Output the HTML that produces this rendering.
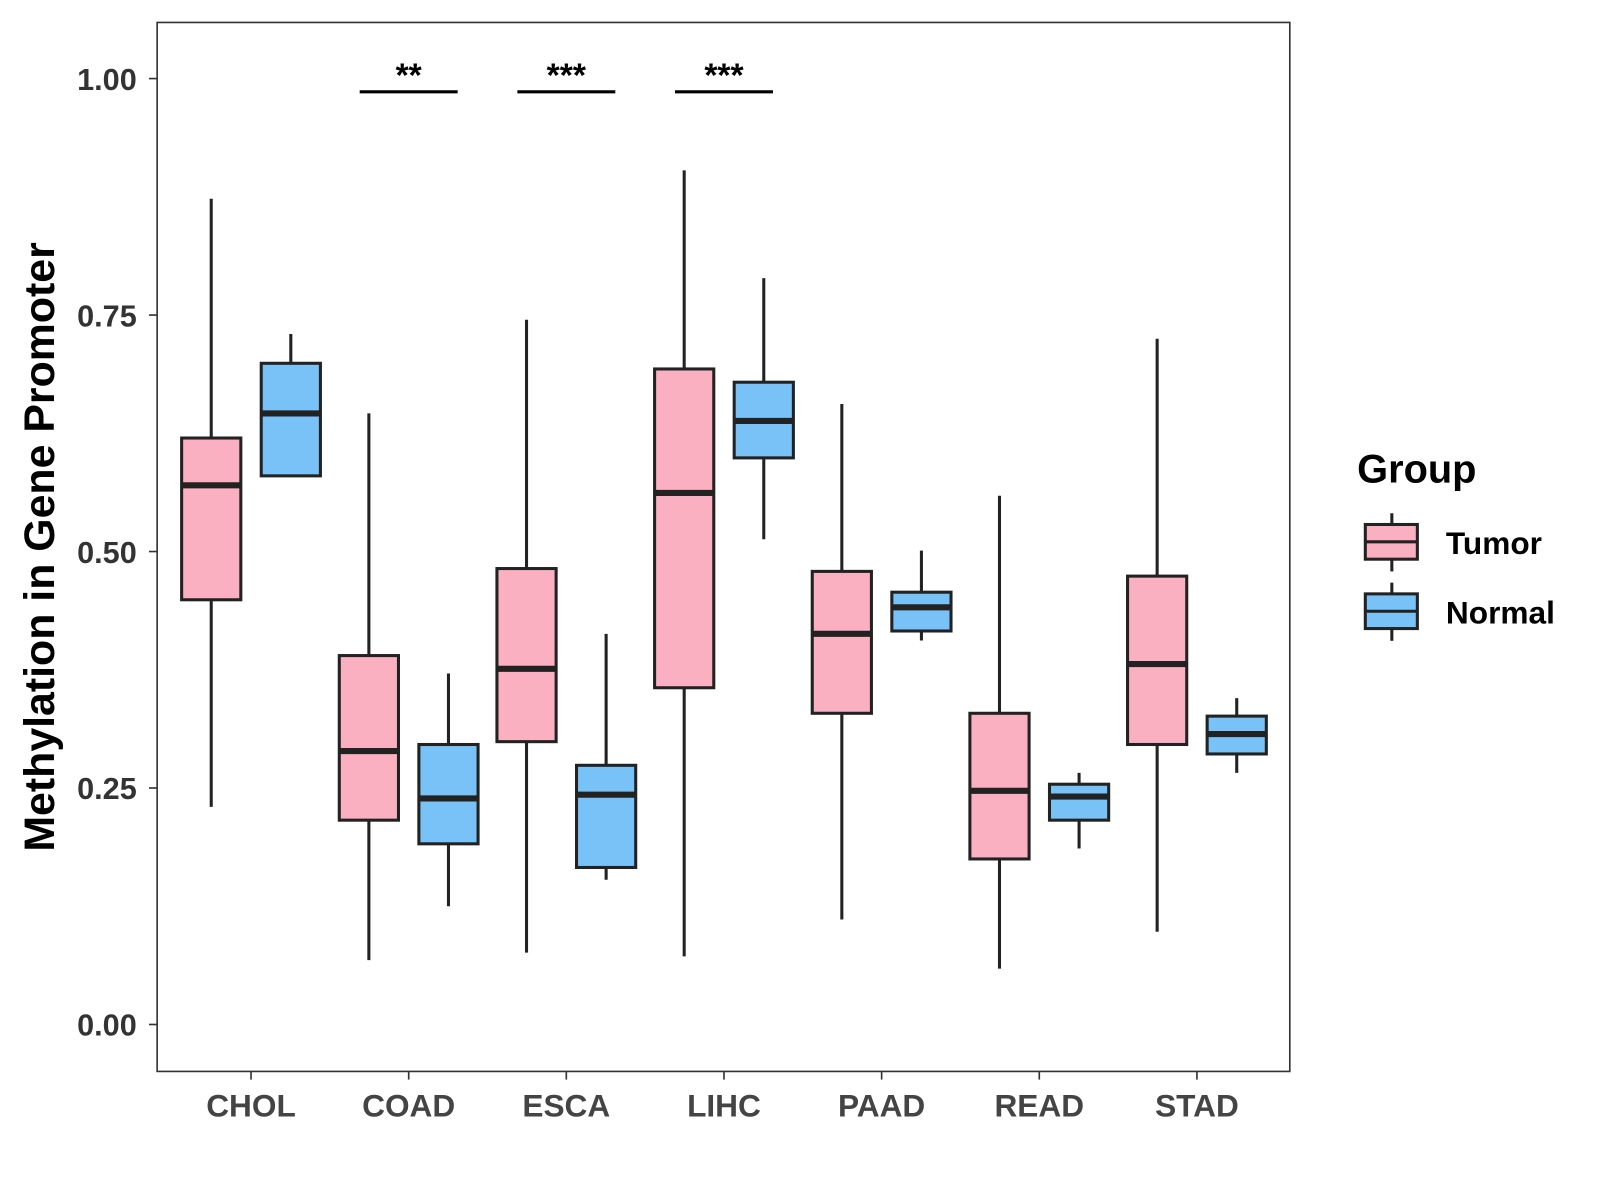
<!DOCTYPE html>
<html><head><meta charset="utf-8"><style>
body{margin:0;background:#fff}
svg{display:block;font-family:"Liberation Sans",Arial,sans-serif}
</style></head><body>
<svg id="chart" width="1600" height="1200" viewBox="0 0 1568 1176">
<rect x="0" y="0" width="1568" height="1176" fill="#fff"/>
<rect x="154" y="22" width="1110" height="1028" fill="none" stroke="#333" stroke-width="1.6"/>
<g id="marks"></g>
<g id="axes"></g>
<text transform="translate(53,536) rotate(-90)" text-anchor="middle" font-size="42" font-weight="bold" fill="#000">Methylation in Gene Promoter</text>
<g>
<text x="1330" y="473" font-size="39" font-weight="bold" fill="#000">Group</text>
<g>
<line x1="1364" y1="503" x2="1364" y2="560" stroke="#222" stroke-width="3"/>
<rect x="1338" y="514" width="51" height="34" fill="#fbb0c2" stroke="#222" stroke-width="3"/>
<line x1="1338" y1="531" x2="1389" y2="531" stroke="#222" stroke-width="3"/>
<text x="1417" y="543" font-size="31" font-weight="bold" fill="#000">Tumor</text>
</g>
<g>
<line x1="1364" y1="571" x2="1364" y2="628" stroke="#222" stroke-width="3"/>
<rect x="1338" y="582" width="51" height="34" fill="#78c2f7" stroke="#222" stroke-width="3"/>
<line x1="1338" y1="599" x2="1389" y2="599" stroke="#222" stroke-width="3"/>
<text x="1417" y="611" font-size="31" font-weight="bold" fill="#000">Normal</text>
</g>
</g>
</svg>
<script>
const categories=["CHOL","COAD","ESCA","LIHC","PAAD","READ","STAD"];
const tumorLow=[0.230,0.068,0.076,0.072,0.111,0.059,0.098];
const tumorQ1=[0.449,0.216,0.299,0.356,0.329,0.175,0.296];
const tumorMed=[0.570,0.289,0.376,0.562,0.413,0.247,0.381];
const tumorQ3=[0.620,0.390,0.482,0.693,0.479,0.329,0.474];
const tumorHigh=[0.873,0.646,0.745,0.903,0.656,0.559,0.725];
const normalLow=[0.580,0.125,0.153,0.513,0.406,0.186,0.266];
const normalQ1=[0.580,0.191,0.166,0.599,0.416,0.216,0.286];
const normalMed=[0.646,0.239,0.243,0.638,0.441,0.241,0.307];
const normalQ3=[0.699,0.296,0.274,0.679,0.457,0.254,0.326];
const normalHigh=[0.730,0.371,0.413,0.789,0.501,0.266,0.345];
const yTicks=[0,0.25,0.5,0.75,1.0];
const yTickLabels=["0.00","0.25","0.50","0.75","1.00"];
const sigCategories=["COAD","ESCA","LIHC"];
const sigLabels=["**","***","***"];

const NS="http://www.w3.org/2000/svg";
const y=v=>1004-v*927;
const x=i=>246+i*154.5;
function mk(tag,attrs,parent){const e=document.createElementNS(NS,tag);for(const k in attrs)e.setAttribute(k,attrs[k]);parent.appendChild(e);return e;}
const marks=document.getElementById('marks'),axes=document.getElementById('axes');
const series=[
 {name:"tumor",off:-39,fill:"#fbb0c2",lo:tumorLow,q1:tumorQ1,md:tumorMed,q3:tumorQ3,hi:tumorHigh},
 {name:"normal",off:39,fill:"#78c2f7",lo:normalLow,q1:normalQ1,md:normalMed,q3:normalQ3,hi:normalHigh}];
categories.forEach((c,i)=>{
 series.forEach(s=>{
  const cx=x(i)+s.off,w=29;
  const g=mk('g',{},marks);
  
  
  mk('line',{x1:cx,x2:cx,y1:y(s.hi[i]),y2:y(s.lo[i]),stroke:"#222","stroke-width":3},g);
  mk('rect',{x:cx-w,y:y(s.q3[i]),width:2*w,height:y(s.q1[i])-y(s.q3[i]),fill:s.fill,stroke:"#222","stroke-width":3},g);
  mk('line',{x1:cx-w,x2:cx+w,y1:y(s.md[i]),y2:y(s.md[i]),stroke:"#222","stroke-width":6},g);
 });
 const t=mk('line',{x1:x(i),x2:x(i),y1:1050,y2:1058,stroke:"#333","stroke-width":1.6},axes);
 
 
 const l=mk('text',{x:x(i),y:1094,"text-anchor":"middle","font-size":31,"font-weight":"bold",fill:"#444"},axes);
 l.textContent=c;
 
 
});
yTicks.forEach((v,i)=>{
 const t=mk('line',{x1:146,x2:154,y1:y(v),y2:y(v),stroke:"#333","stroke-width":1.6},axes);
 
 
 const l=mk('text',{x:134,y:y(v)+11,"text-anchor":"end","font-size":30,"font-weight":"bold",fill:"#333"},axes);
 l.textContent=yTickLabels[i];
 
 
});
sigCategories.forEach((c,k)=>{
 const i=categories.indexOf(c);
 const g=mk('g',{},marks);
 
 
 mk('line',{x1:x(i)-48,x2:x(i)+48,y1:90,y2:90,stroke:"#000","stroke-width":3},g);
 const t=mk('text',{x:x(i),y:85,"text-anchor":"middle","font-size":33,"font-weight":"bold",fill:"#000"},g);
 t.textContent=sigLabels[k];
});
</script>
</body></html>
